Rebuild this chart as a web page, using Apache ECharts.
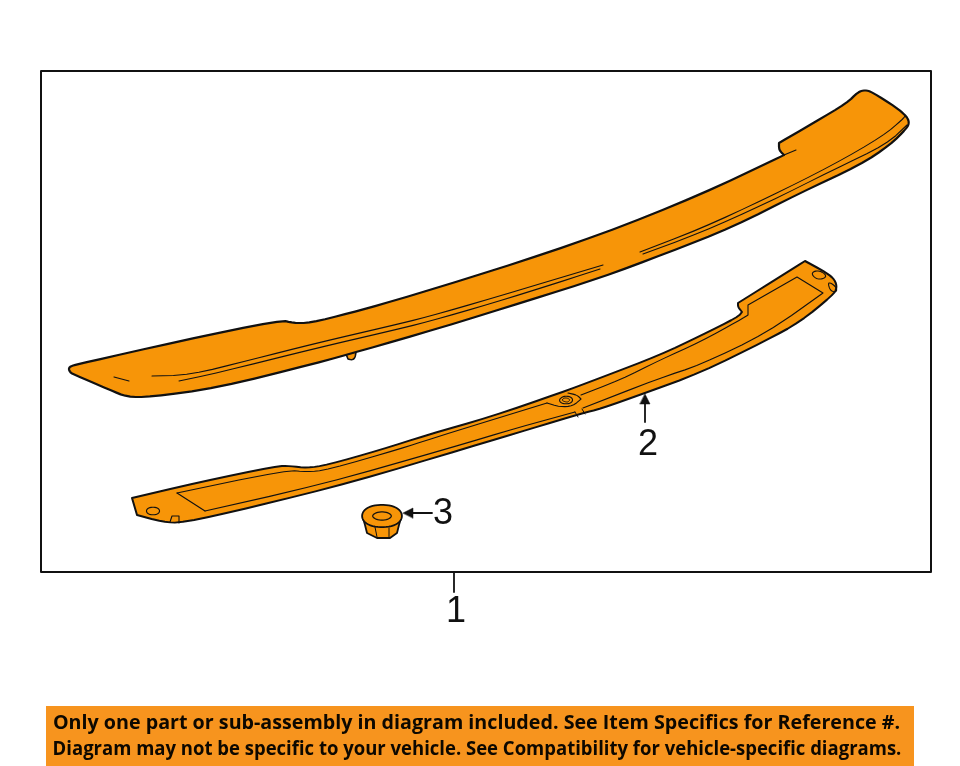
<!DOCTYPE html>
<html><head><meta charset="utf-8">
<style>html,body{margin:0;padding:0;background:#fff}#c{width:960px;height:766px}</style>
<script src="https://cdn.jsdelivr.net/npm/echarts@6/dist/echarts.min.js"></script>
</head><body><div id="c"></div>
<script>
const orange = '#F79508', ink = '#111';
const frame = [[41,71],[931,71],[931,572],[41,572]];
const banner = [[46,706],[914,706],[914,766],[46,766]];
const spoiler = [[69,370],[69,368],[71,366],[83,363],[180,341],[281,320],[293,323],[310,323],[350,313],[390,302],[495,270],[600,235],[700,195],[780,157],[784,155],[779,150],[779,143],[815,122],[847,103],[858,92],[865,90],[872,92],[897,108],[905,115],[908,119],[909,123],[907,128],[890,145],[860,165],[800,193],[733,227],[667,253],[600,278],[530,300],[440,328],[360,351],[317,363],[217,388],[150,397],[127,397],[110,390],[73,374],[70.5,372.5]];
const spoilerNub = [[346,354],[348,359],[352,360],[355,358],[356,352]];
const spoilerLineA = [[152,376],[190,375],[250,360],[317,343],[390,326],[427,317],[493,298],[603,265]];
const spoilerLineB = [[179,381],[217,373],[317,348],[390,331],[427,322],[493,303],[560,282],[600,269]];
const spoilerLineC = [[640,252],[700,229],[767,198],[833,165],[883,136],[903,119],[905,116]];
const spoilerLineD = [[643,254],[700,233],[767,203],[833,170],[887,144],[907,125]];
const spoilerDash = [[114,377],[129,381]];
const spoilerNotch = [[784,155],[796,150]];
const strip = [[132,498],[200,482],[277,466],[290,466],[307,468],[327,465],[380,450],[427,435],[490,417],[560,393],[600,378],[660,355],[700,336],[738,317],[742,312],[738,307],[738,303],[770,283],[805,261],[827,273],[835,280],[837,288],[833,295],[800,322],[767,340],[700,373],[645,393],[600,409],[583,413],[530,429],[470,447],[353,482],[253,507],[182,523],[163,522],[137,515]];
const stripInnerTop = [[177,493],[287,470],[307,472],[327,470],[403,448],[427,440],[547,403]];
const stripInnerTop2 = [[581,395],[620,380],[660,360],[700,342],[740,320],[748,315],[748,305],[797,277],[823,293],[767,333],[700,365],[660,378],[583,408]];
const stripInnerBottom = [[575,412],[520,427],[450,448],[320,485],[205,511]];
const stripInnerEnd = [[205,511],[177,493]];
const stripHoleRim = [[547,403],[560,407],[573,406],[581,399],[577,395],[568,393]];
const stripHoleOuter = [[559,400],[562,397],[566,396],[571,397],[573,400],[571,403],[566,404],[561,403]];
const stripHoleInner = [[562,400],[564,398],[567,398],[569,399],[570,400],[568,402],[566,402],[563,401]];
const stripTabA = [[575,412],[578,417]];
const stripTabB = [[582,409],[585,414]];
const stripSlotA = [[812,273],[815,271],[820,271],[825,274],[826,277],[822,279],[817,279],[813,276]];
const stripSlotB = [[828,283],[831,283],[836,287],[837,291],[834,292],[830,290]];
const stripHoleLeft = [[146,511],[148,508],[153,507],[158,508],[160,511],[158,514],[153,515],[148,514]];
const stripTab = [[170,522],[172,516],[179,516],[179,523]];
const nutBody = [[363,518],[365,525],[367,533],[377,538],[390,538],[397,533],[399,525],[401,518]];
const nutFlange = [[361.5,516],[364,510],[371,506],[382,504.5],[393,506],[400,510],[402.5,516],[400,522],[393,526],[382,527.5],[371,526],[364,522]];
const nutBore = [[372,516],[375,513],[382,511.5],[389,513],[392,516],[389,519],[382,520.5],[375,519]];
const nutFacetA = [[375,527],[377,537]];
const nutFacetB = [[389,528],[389,537]];
const leader1 = [[454,573],[454,592]];
const leader2 = [[645,422],[645,402]];
const head2 = [[645,394],[650,404],[640,404]];
const leader3 = [[432,513],[411,513]];
const head3 = [[403,513],[413,508],[413,518]];
const calloutLabels = [['1',456,612],['2',648,445],['3',443,514]];
const bannerLines = [
  ['Only one part or sub-assembly in diagram included. See Item Specifics for Reference #.',476.5,724,1.036],
  ['Diagram may not be specific to your vehicle. See Compatibility for vehicle-specific diagrams.',477,750,0.974]
];
const F = orange;
const shapes = [
  {p:frame, closed:1, fill:'#fff', w:2},
  {p:spoilerNub, fill:F, w:1.6, soft:1},
  {p:spoiler, closed:1, fill:F, w:2.2, soft:1},
  {p:spoilerLineA, w:1.1, soft:1},{p:spoilerLineB, w:1.1, soft:1},
  {p:spoilerLineC, w:1.1, soft:1},{p:spoilerLineD, w:1.1, soft:1},
  {p:spoilerDash, w:1.1},{p:spoilerNotch, w:1.1},
  {p:strip, closed:1, fill:F, w:2, soft:1},
  {p:stripInnerTop, w:1.1, soft:1},{p:stripInnerTop2, w:1.1, soft:1},{p:stripInnerBottom, w:1.1, soft:1},{p:stripInnerEnd, w:1.1},
  {p:stripHoleRim, w:1.1, soft:1},{p:stripHoleOuter, closed:1, w:1.1, soft:1, round:1},{p:stripHoleInner, closed:1, w:1, soft:1, round:1},
  {p:stripTabA, w:1},{p:stripTabB, w:1},
  {p:stripSlotA, closed:1, w:1.1, soft:1, round:1},{p:stripSlotB, closed:1, w:1.1, soft:1, round:1},
  {p:stripHoleLeft, closed:1, w:1.1, soft:1, round:1},{p:stripTab, w:1.1},
  {p:nutBody, fill:F, w:1.8},{p:nutFlange, closed:1, fill:F, w:1.8, soft:1, round:1},
  {p:nutBore, closed:1, w:1.2, soft:1, round:1},{p:nutFacetA, w:1},{p:nutFacetB, w:1},
  {p:leader1, w:1.8},{p:leader2, w:1.8},{p:head2, closed:1, fill:ink, w:.5},
  {p:leader3, w:1.8},{p:head3, closed:1, fill:ink, w:.5}
];
// Round gentle bends of an outline while keeping its real corners sharp.
function soften(pts, closed, round){
  const n=pts.length, at=i=>pts[(i+n)%n];
  const sharp=i=>{
    if(round)return false;
    if(!closed&&(i===0||i===n-1))return true;
    const a=at(i-1),b=at(i),c=at(i+1);
    let d=Math.atan2(c[1]-b[1],c[0]-b[0])-Math.atan2(b[1]-a[1],b[0]-a[0]);
    d=Math.abs(Math.atan2(Math.sin(d),Math.cos(d)));
    return d>Math.PI*0.3;
  };
  const out=[];
  const last=closed?n:n-1;
  for(let i=0;i<last;i++){
    const a=at(i),b=at(i+1);
    out.push(sharp(i)?a:[a[0]*.75+b[0]*.25,a[1]*.75+b[1]*.25]);
    out.push(sharp((i+1)%n)?b:[a[0]*.25+b[0]*.75,a[1]*.25+b[1]*.75]);
  }
  return out;
}
const chart = echarts.init(document.getElementById('c'), null, {renderer:'canvas'});
chart.setOption({
  animation:false,
  backgroundColor:'#fff',
  grid:{left:0,right:0,top:0,bottom:0},
  xAxis:{type:'value',min:0,max:960,show:false},
  yAxis:{type:'value',min:0,max:766,inverse:true,show:false},
  series:[
    {type:'custom',coordinateSystem:'cartesian2d',silent:true,clip:false,
     data:[[0,0]],
     renderItem:(params,api)=>({type:'polygon',shape:{points:banner.map(q=>api.coord(q))},style:{fill:'#F7941E'}})},
    {type:'custom',coordinateSystem:'cartesian2d',silent:true,clip:false,
     data:shapes.map((s,i)=>[i,0]),
     renderItem:(params,api)=>{
       const s=shapes[params.dataIndex];
       let pts=s.p.map(q=>api.coord(q));
       if(s.soft){const c=!!s.closed;pts=soften(soften(pts,c,s.round),c,s.round);}
       return {type:(s.closed||s.fill)?'polygon':'polyline',
         shape:{points:pts},
         style:{fill:s.fill||(s.closed?'none':null),stroke:ink,lineWidth:s.w,lineJoin:'round',lineCap:'round'}};
     }},
    {type:'custom',coordinateSystem:'cartesian2d',silent:true,clip:false,
     data:calloutLabels.map((r,i)=>[i,0]),
     renderItem:(params,api)=>{
       const r=calloutLabels[params.dataIndex], c=api.coord([r[1],r[2]]);
       return {type:'text',x:c[0],y:c[1],style:{text:r[0],fill:ink,font:'36px "Liberation Sans", sans-serif',align:'center',verticalAlign:'middle'}};
     }},
    {type:'custom',coordinateSystem:'cartesian2d',silent:true,clip:false,
     data:bannerLines.map((r,i)=>[i,0]),
     renderItem:(params,api)=>{
       const r=bannerLines[params.dataIndex], c=api.coord([r[1],r[2]]);
       return {type:'text',x:c[0],y:c[1],scaleX:r[3],style:{text:r[0],fill:'#0d0800',font:'bold 19px "Open Sans", sans-serif',align:'center',verticalAlign:'middle'}};
     }}
  ]
});
</script></body></html>
